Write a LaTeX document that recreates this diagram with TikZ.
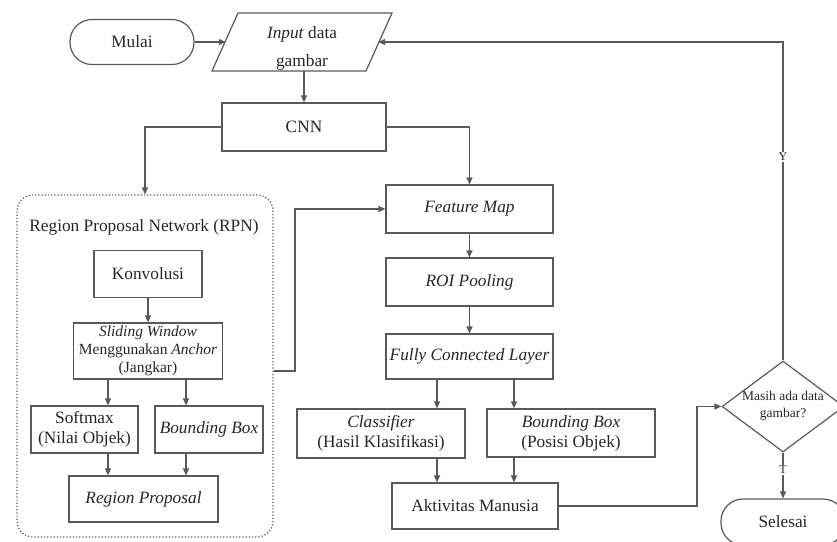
\documentclass[tikz,border=0pt]{standalone}
\usepackage{fontspec}
\setmainfont{Liberation Serif}
\usetikzlibrary{arrows.meta,shapes.geometric}
\begin{document}
\begin{tikzpicture}[x=1pt,y=-1pt,
  ln/.style={draw=black!65,line width=1.2pt},
  arr/.style={ln,-{Triangle[length=7pt,width=6pt]}},
  box/.style={ln,rectangle,text=black!85,align=center,inner sep=1pt,font=\fontsize{17.3}{20}\selectfont},
  term/.style={box,rounded corners=22pt},
  lbl/.style={text=black!85,font=\fontsize{17.3}{20}\selectfont,inner sep=0pt},
  small/.style={font=\fontsize{15.5}{18}\selectfont},
  yt/.style={fill=white,text=black!85,font=\fontsize{12}{14}\selectfont,inner sep=1pt}]
\useasboundingbox (0,0) rectangle (837,541);
% container
\node[ln,dotted,rounded corners=16pt,minimum width=256pt,minimum height=342pt] (rpn) at (145,366) {};
\node[lbl] (rpnl) at (144,227) {Region Proposal Network (RPN)};
% top
\node[term,minimum width=124pt,minimum height=45pt] (mulai) at (132,42) {Mulai};
\node[minimum width=152pt,minimum height=58pt,inner sep=0pt] (input) at (302,42) {};
\draw[ln] (238,13) -- (392,13) -- (366,71) -- (212,71) -- cycle;
\node[lbl] (inl1) at (302,34) {\textit{Input} data};
\node[lbl] (inl2) at (302,62) {gambar};
\node[box,minimum width=164pt,minimum height=48pt] (cnn) at (304,127) {CNN};
% RPN
\node[box,minimum width=108pt,minimum height=47pt] (konv) at (148,274) {Konvolusi};
\node[box,small,minimum width=149pt,minimum height=56pt] (slide) at (148,351) {\textit{Sliding Window}\\Menggunakan \textit{Anchor}\\(Jangkar)};
\node[box,minimum width=107pt,minimum height=47pt] (soft) at (84.5,429.5) {Softmax\\(Nilai Objek)};
\node[box,minimum width=108pt,minimum height=47pt] (bb1) at (209,429.5) {\textit{Bounding Box}};
\node[box,minimum width=149pt,minimum height=46pt] (rp) at (143.5,499) {\textit{Region Proposal}};
% middle column
\node[box,minimum width=167pt,minimum height=48pt] (fm) at (469.5,209) {\textit{Feature Map}};
\node[box,minimum width=167pt,minimum height=48pt] (roi) at (469.5,282) {\textit{ROI Pooling}};
\node[box,minimum width=167pt,minimum height=45pt] (fcl) at (469.5,356.5) {\textit{Fully Connected Layer}};
\node[box,minimum width=168pt,minimum height=49pt] (cls) at (381,433.5) {\textit{Classifier}\\(Hasil Klasifikasi)};
\node[box,minimum width=168pt,minimum height=48pt] (bb2) at (571,433) {\textit{Bounding Box}\\(Posisi Objek)};
\node[box,minimum width=166pt,minimum height=46pt] (akt) at (475,506) {Aktivitas Manusia};
% decision
\node[ln,diamond,minimum width=122pt,minimum height=91pt,inner sep=0pt,aspect=1.34] (dec) at (783,406.5) {};
\node[lbl,align=center,font=\fontsize{13.5}{17}\selectfont] (decl) at (783,406) {Masih ada data\\gambar?};
\node[term,minimum width=124pt,minimum height=46pt] (sel) at (783,522) {Selesai};
% helper coordinates
\coordinate (xa) at (108,0);
\coordinate (xb) at (186,0);
\coordinate (xc) at (437,0);
\coordinate (xd) at (514,0);
\coordinate (j1) at (295,0);
\coordinate (j2) at (697,0);
% connectors
\draw[arr] (mulai.east) -- (input.west);
\draw[arr] (input.south -| cnn.north) -- (cnn.north);
\draw[arr] (cnn.west) -| (rpn.north);
\draw[arr] (cnn.east) -| (fm.north);
\draw[arr] ([yshift=-5pt]rpn.east) -- ([yshift=-5pt]rpn.east -| j1) |- (fm.west);
\draw[arr] (konv.south) -- (slide.north);
\draw[arr] (slide.south -| xa) -- (soft.north -| xa);
\draw[arr] (slide.south -| xb) -- (bb1.north -| xb);
\draw[arr] (soft.south -| xa) -- (rp.north -| xa);
\draw[arr] (bb1.south -| xb) -- (rp.north -| xb);
\draw[arr] (fm.south) -- (roi.north);
\draw[arr] (roi.south) -- (fcl.north);
\draw[arr] (fcl.south -| xc) -- (cls.north -| xc);
\draw[arr] (fcl.south -| xd) -- (bb2.north -| xd);
\draw[arr] (cls.south -| xc) -- (akt.north -| xc);
\draw[arr] (bb2.south -| xd) -- (akt.north -| xd);
\draw[arr] (akt.east) -- (akt.east -| j2) |- (dec.west);
\draw[arr] (dec.north) |- node[yt,pos=0.32] {Y} (input.east);
\draw[arr] (dec.south) -- node[yt,pos=0.38] {T} (sel.north);
\end{tikzpicture}
\end{document}
